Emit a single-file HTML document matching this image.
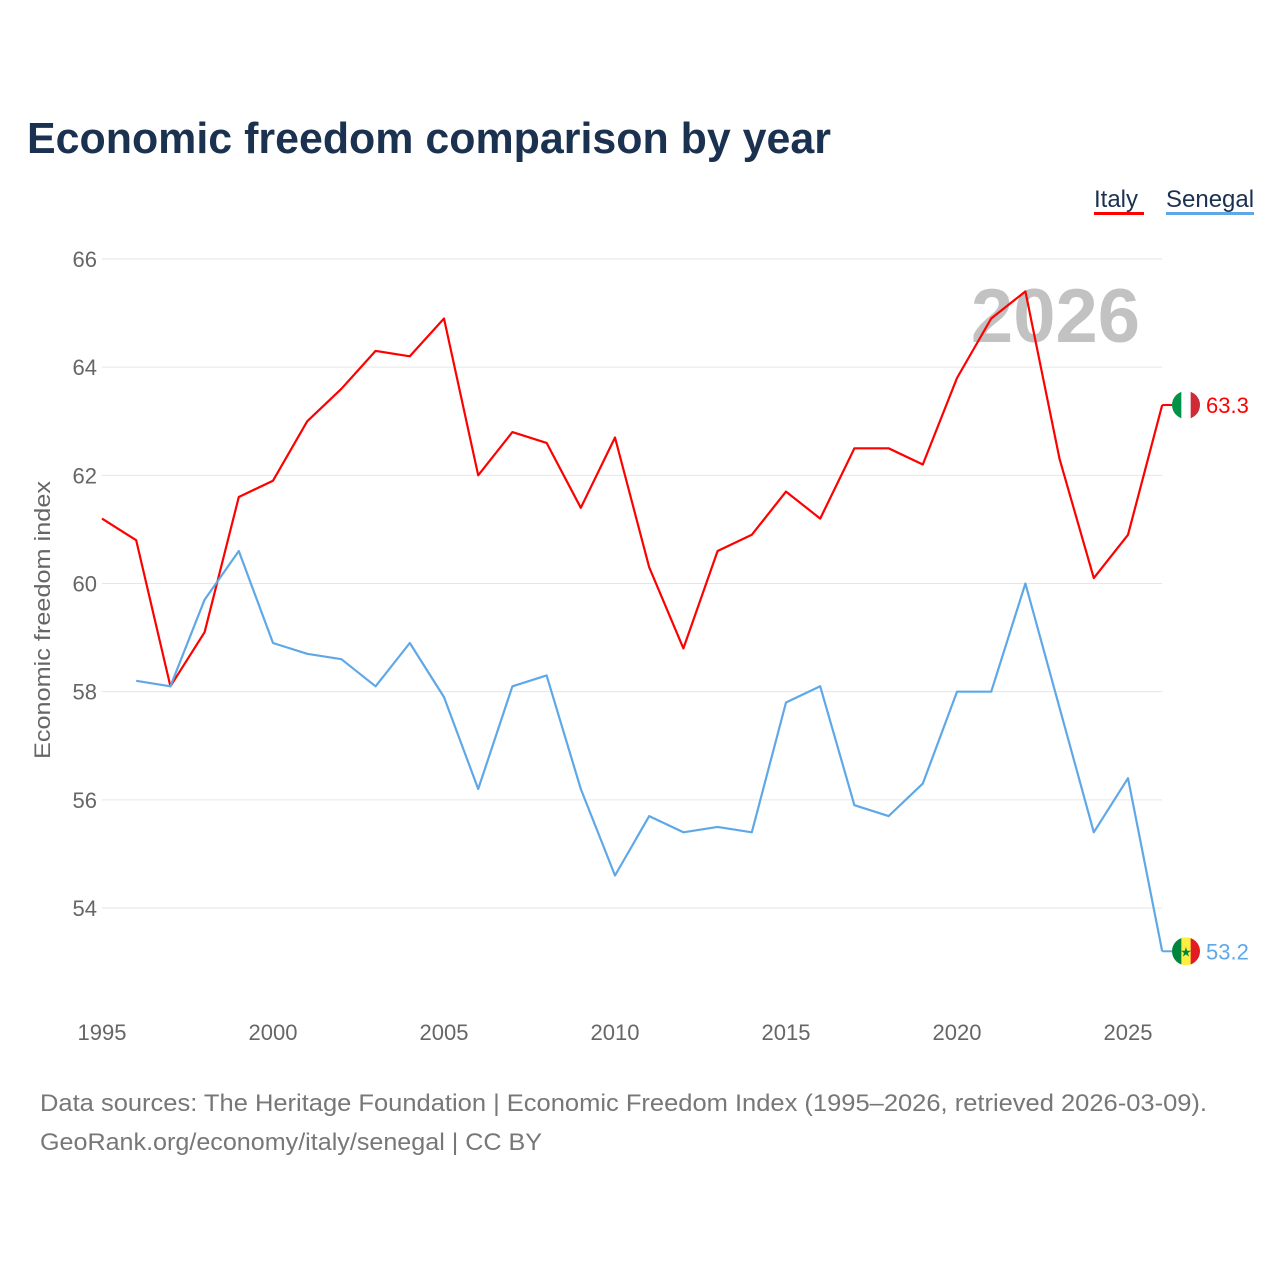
<!DOCTYPE html>
<html><head><meta charset="utf-8"><style>
html,body{margin:0;padding:0;background:#fff;}
svg{display:block;font-family:"Liberation Sans",sans-serif;}
</style></head><body>
<svg id="chart" width="1280" height="1280" viewBox="0 0 1280 1280" xmlns="http://www.w3.org/2000/svg">
<text x="27" y="153" font-size="44" font-weight="bold" fill="#1b3150" textLength="804" lengthAdjust="spacingAndGlyphs">Economic freedom comparison by year</text>
<g>
<text x="1094" y="207" font-size="24" fill="#1b3150">Italy</text>
<rect x="1094" y="212" width="50" height="3" fill="#ff0000"/>
<text x="1166" y="207" font-size="24" fill="#1b3150">Senegal</text>
<rect x="1166" y="212" width="88" height="3" fill="#5fa8e8"/>
</g>
<g id="grid"></g>
<g id="yticks"></g>
<g id="xticks"></g>
<text x="1140" y="342" text-anchor="end" font-size="76" font-weight="bold" fill="#c2c2c2">2026</text>
<text transform="translate(50,620) rotate(-90)" text-anchor="middle" font-size="22" fill="#666" textLength="278" lengthAdjust="spacingAndGlyphs">Economic freedom index</text>
<g id="series"></g>
<g id="endmarks"></g>
<text x="40" y="1111" font-size="24" fill="#777" textLength="1167" lengthAdjust="spacingAndGlyphs">Data sources: The Heritage Foundation | Economic Freedom Index (1995–2026, retrieved 2026-03-09).</text>
<text x="40" y="1150" font-size="24" fill="#777" textLength="502" lengthAdjust="spacingAndGlyphs">GeoRank.org/economy/italy/senegal | CC BY</text>
</svg>
<script>
const years = [1995,1996,1997,1998,1999,2000,2001,2002,2003,2004,2005,2006,2007,2008,2009,2010,2011,2012,2013,2014,2015,2016,2017,2018,2019,2020,2021,2022,2023,2024,2025,2026];
const italy = [61.2,60.8,58.1,59.1,61.6,61.9,63.0,63.6,64.3,64.2,64.9,62.0,62.8,62.6,61.4,62.7,60.3,58.8,60.6,60.9,61.7,61.2,62.5,62.5,62.2,63.8,64.9,65.4,62.3,60.1,60.9,63.3];
const senegal = [null,58.2,58.1,59.7,60.6,58.9,58.7,58.6,58.1,58.9,57.9,56.2,58.1,58.3,56.2,54.6,55.7,55.4,55.5,55.4,57.8,58.1,55.9,55.7,56.3,58.0,58.0,60.0,57.7,55.4,56.4,53.2];
const yTicks = [54,56,58,60,62,64,66];
const xTicks = [1995,2000,2005,2010,2015,2020,2025];

const NS = "http://www.w3.org/2000/svg";
const xS = y => 102 + (y - 1995) * (1128 - 102) / 30;
const yS = v => 259 + (66 - v) * (908 - 259) / 12;
function mk(tag, attrs, parent, txt){const e=document.createElementNS(NS,tag);for(const k in attrs)e.setAttribute(k,attrs[k]);if(txt!=null)e.textContent=txt;parent.appendChild(e);return e;}

const grid=document.getElementById('grid'), yt=document.getElementById('yticks'), xt=document.getElementById('xticks');
yTicks.forEach(t=>{
  const l=mk('line',{x1:102,x2:1162,y1:yS(t),y2:yS(t),stroke:'#e6e6e6','stroke-width':1},grid);
  
  
  const tx=mk('text',{x:97,y:yS(t)+8,'text-anchor':'end','font-size':22,fill:'#666'},yt,t);
  
  
});
xTicks.forEach(t=>{
  const tx=mk('text',{x:xS(t),y:1040,'text-anchor':'middle','font-size':22,fill:'#666'},xt,t);
  
  
});

const ser=document.getElementById('series');
function line(vals,color,name){
  let d='';let pen=false;
  vals.forEach((v,i)=>{if(v==null){pen=false;return;}d+=(pen?'L':'M')+xS(years[i]).toFixed(1)+' '+yS(v).toFixed(1)+' ';pen=true;});
  const p=mk('path',{d:d,fill:'none',stroke:color,'stroke-width':2.2,'stroke-linejoin':'round'},ser);
  
  
}
line(italy,'#ff0000','italy-line');
line(senegal,'#5fa8e8','senegal-line');

const em=document.getElementById('endmarks');
function endmark(vals,color,name,flag){
  const v=vals[vals.length-1], x=xS(years[years.length-1]), y=yS(v), cx=1186;
  mk('line',{x1:x,x2:cx-14,y1:y,y2:y,stroke:color,'stroke-width':2},em);
  const g=mk('g',{},em);
  
  
  const id='clip'+name;
  const cp=mk('clipPath',{id:id},g);mk('circle',{cx:cx,cy:y,r:14},cp);
  const gg=mk('g',{'clip-path':'url(#'+id+')'},g);
  flag.forEach((c,i)=>mk('rect',{x:cx-14+i*28/3,y:y-14,width:28/3+0.5,height:28,fill:c},gg));
  if(name==='senegal')mk('text',{x:cx,y:y+5,'text-anchor':'middle','font-size':13,fill:'#00853f'},g,'★');
  const t=mk('text',{x:1206,y:y+8,'font-size':22,fill:color},em,v.toFixed(1));
  
  
}
endmark(italy,'#ff0000','italy',['#009246','#ffffff','#ce2b37']);
endmark(senegal,'#5fa8e8','senegal',['#00853f','#fdef42','#e31b23']);
</script>
</body></html>
